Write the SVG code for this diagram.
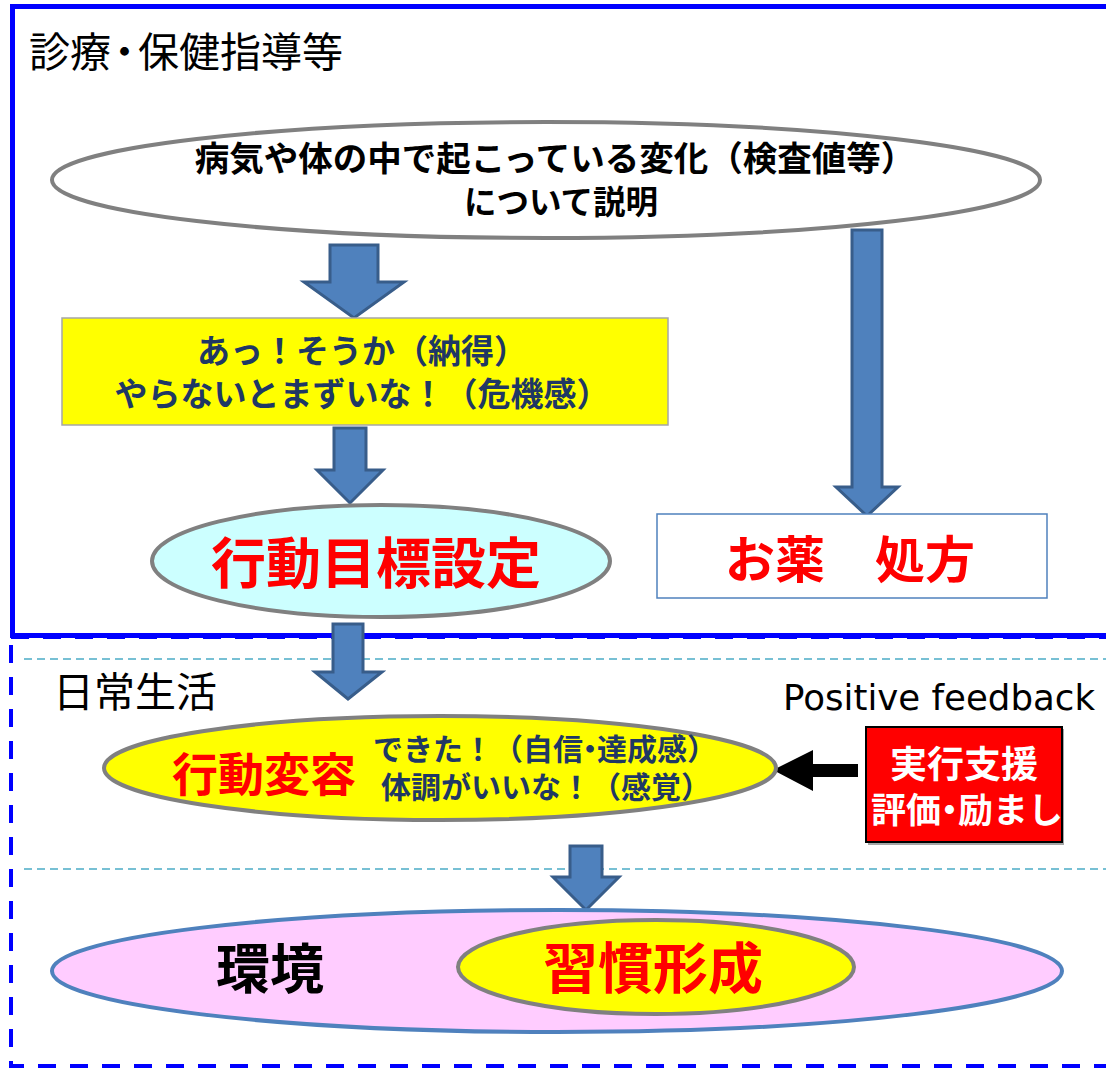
<svg xmlns="http://www.w3.org/2000/svg" width="1106" height="1068" viewBox="0 0 1106 1068">
<style>
.jp{font-family:"Noto Sans CJK JP","Noto Sans",sans-serif}
.b{font-weight:bold}
.arr{fill:#4f81bd;stroke:#385d8a;stroke-width:3}
.ell{stroke:#808080;stroke-width:4}
.cy{stroke:#4bacc6;stroke-width:1.5;stroke-dasharray:8 5;fill:none}
</style>
<rect width="1106" height="1068" fill="#fff"/>
<g id="frames">
<rect x="11" y="637" width="1120" height="429" fill="none" stroke="#0000ff" stroke-width="4" stroke-dasharray="18 14"/>
<rect x="12.5" y="6.5" width="1120" height="629" fill="none" stroke="#0000ff" stroke-width="5"/>
<line x1="24" y1="659" x2="1106" y2="659" class="cy"/>
<line x1="24" y1="869" x2="1106" y2="869" class="cy"/>
<text x="29" y="67" class="jp" font-size="41" fill="#000">診療<tspan dx="-7">・</tspan><tspan dx="-7">保健指導等</tspan></text>
<text x="53" y="707" class="jp" font-size="41" fill="#000">日常生活</text>
<text x="1095" y="710" text-anchor="end" font-family="DejaVu Sans,Verdana,sans-serif" font-size="35.6" fill="#000">Positive feedback</text>
</g>
<g id="connectors">
<path class="arr" d="M330,245 H378 V282 H404 L354,318 L304,282 H330 Z"/>
<path class="arr" d="M334,428 H366 V470 H383 L350,503 L317,470 H334 Z"/>
<path class="arr" d="M852,230 H882 V487 H898 L867,516 L836,487 H852 Z"/>
<path class="arr" d="M333,624 H363 V672 H382 L348,699 L315,672 H333 Z"/>
<path class="arr" d="M570,846 H602 V877 H619 L586,910 L553,877 H570 Z"/>
<path fill="#000" d="M858,764 V777 H813 V791 L773,770 L813,750 V764 Z"/>
</g>
<g id="node-explain">
<ellipse cx="546" cy="180" rx="494" ry="58" fill="#fff" class="ell"/>
<text x="555" y="171" text-anchor="middle" class="jp b" font-size="34.5" fill="#000">病気や体の中で起こっている変化（検査値等）</text>
<text x="561" y="214" text-anchor="middle" class="jp b" font-size="32.5" fill="#000">について説明</text>
</g>
<g id="node-aha">
<rect x="62" y="318" width="606" height="107" fill="#ffff00" stroke="#a6a6a6" stroke-width="1.5"/>
<text x="362" y="363" text-anchor="middle" class="jp b" font-size="33" fill="#1f3864">あっ！そうか（納得）</text>
<text x="362" y="406" text-anchor="middle" class="jp b" font-size="33" fill="#1f3864">やらないとまずいな！（危機感）</text>
</g>
<g id="node-goal">
<ellipse cx="381" cy="561" rx="229" ry="56" fill="#ccffff" class="ell"/>
<text x="376" y="583" text-anchor="middle" class="jp b" font-size="55" fill="#ff0000">行動目標設定</text>
</g>
<g id="node-medicine">
<rect x="657" y="514" width="390" height="84" fill="#fff" stroke="#4f81bd" stroke-width="1.5"/>
<text x="850" y="578" text-anchor="middle" class="jp b" font-size="50" fill="#ff0000">お薬　処方</text>
</g>
<g id="node-change">
<ellipse cx="440" cy="768" rx="336" ry="52" fill="#ffff00" class="ell"/>
<text x="264" y="791" text-anchor="middle" class="jp b" font-size="46" fill="#ff0000">行動変容</text>
<text x="373" y="760" class="jp b" font-size="30" fill="#1f3864">できた！（自信<tspan dx="-8">・</tspan><tspan dx="-8">達成感）</tspan></text>
<text x="546" y="798" text-anchor="middle" class="jp b" font-size="30" fill="#1f3864">体調がいいな！（感覚）</text>
</g>
<g id="node-support">
<rect x="868" y="729" width="196" height="116" fill="#a6a6a6"/>
<rect x="866" y="727" width="196" height="115" fill="#ff0000" stroke="#000" stroke-width="2"/>
<text x="964" y="778" text-anchor="middle" class="jp b" font-size="37" fill="#fff">実行支援</text>
<text x="871" y="823" class="jp b" font-size="35" fill="#fff">評価<tspan dx="-9">・</tspan><tspan dx="-9">励まし</tspan></text>
</g>
<g id="node-env">
<ellipse cx="557" cy="971" rx="505" ry="61" fill="#ffccff" stroke="#4f81bd" stroke-width="4"/>
<text x="270" y="989" text-anchor="middle" class="jp b" font-size="54" fill="#000">環境</text>
</g>
<g id="node-habit">
<ellipse cx="656" cy="967" rx="198" ry="47" fill="#ffff00" class="ell"/>
<text x="653" y="988" text-anchor="middle" class="jp b" font-size="55" fill="#ff0000">習慣形成</text>
</g>
</svg>
